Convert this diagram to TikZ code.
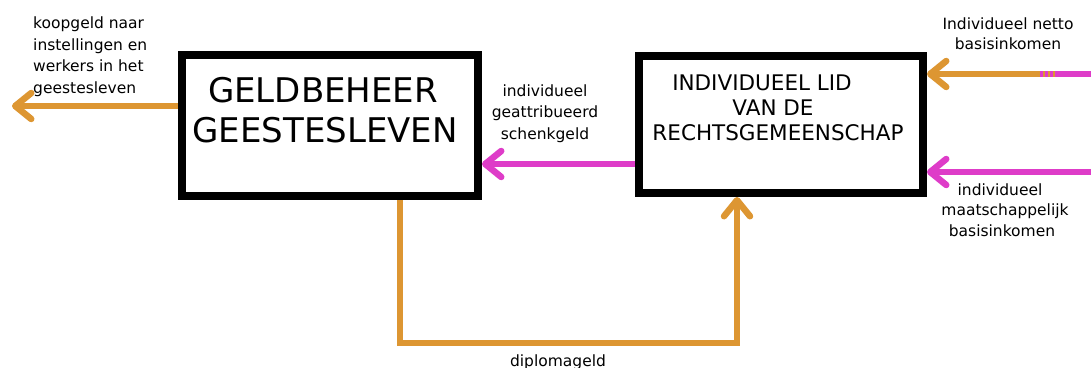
\documentclass[tikz,border=0pt]{standalone}
\usepackage{fontspec}
\setmainfont{DejaVu Sans}
\usetikzlibrary{arrows.meta}
\definecolor{flowor}{RGB}{221,150,50}
\definecolor{flowmg}{RGB}{222,60,200}
\tikzset{
  boxstyle/.style={draw=black, line width=8pt, fill=white, rectangle, inner sep=0pt},
  flowarrow/.style={line width=6.5pt, -{Straight Barb[length=16pt,width=26pt,round]}},
  orflow/.style={flowarrow, draw=flowor},
  mgflow/.style={flowarrow, draw=flowmg},
  lbl/.style={inner sep=0pt, font=\fontsize{15.5}{21.5}\selectfont},
}
\begin{document}
\begin{tikzpicture}[x=1pt,y=-1pt]
\useasboundingbox (0,0) rectangle (1091,367);
% boxes
\node[boxstyle, minimum width=296pt, minimum height=141pt] (boxL) at (330,125.5) {};
\node[boxstyle, minimum width=284pt, minimum height=137pt] (boxR) at (781,124.5) {};
\node[inner sep=0pt, align=center, anchor=base, font=\fontsize{34}{40}\selectfont] (boxLtxt) at (325,142) {GELDBEHEER\hspace*{4pt}\\GEESTESLEVEN};
\node[inner sep=0pt, align=center, anchor=base, font=\fontsize{21.5}{25}\selectfont] (boxRtxt) at (773,140) {INDIVIDUEEL LID\hspace*{22pt}\\VAN DE\hspace*{8pt}\\\hspace*{10pt}RECHTSGEMEENSCHAP};
% coordinates
\coordinate (kEnd) at (12,106);
\coordinate (mY) at (0,164);
\coordinate (nStart) at (1091,74);
\coordinate (nSwitch) at (1040,74);
\coordinate (nMid) at (1056,74);
\coordinate (bStart) at (1091,172);
\coordinate (dA) at (400,343);
\coordinate (dB) at (737,343);
% connectors
\draw[orflow] (boxL.west |- kEnd) -- (kEnd);
\draw[mgflow] (boxR.west |- mY) -- (boxL.east |- mY);
\draw[orflow] (nMid) -- (boxR.east |- nStart);
\draw[line width=6.5pt, draw=flowmg] (nStart) -- (nMid);
\draw[line width=6.5pt, draw=flowmg, dash pattern=on 2.5pt off 2.5pt] (nSwitch) -- (nMid);
\draw[mgflow] (bStart) -- (boxR.east |- bStart);
\draw[orflow] (boxL.south -| dA) -- (dA) -- (dB) -- (boxR.south -| dB);
% labels
\node[lbl, align=left, anchor=base west] (koop) at (33,93) {koopgeld naar\\instellingen en\\werkers in het\\geestesleven};
\node[lbl, align=center, anchor=base, font=\fontsize{15.5}{19.5}\selectfont] (netto) at (1008,49) {Individueel netto\\basisinkomen};
\node[lbl, align=center, anchor=base] (schenk) at (545,139) {individueel\\geattribueerd\\schenkgeld};
\node[lbl, align=center, anchor=base, font=\fontsize{15.5}{20.5}\selectfont] (maat) at (1002,236) {individueel\hspace*{4pt}\\\hspace*{6pt}maatschappelijk\\basisinkomen};
\node[lbl, anchor=base] (diploma) at (558,366) {diplomageld};
\end{tikzpicture}
\end{document}
